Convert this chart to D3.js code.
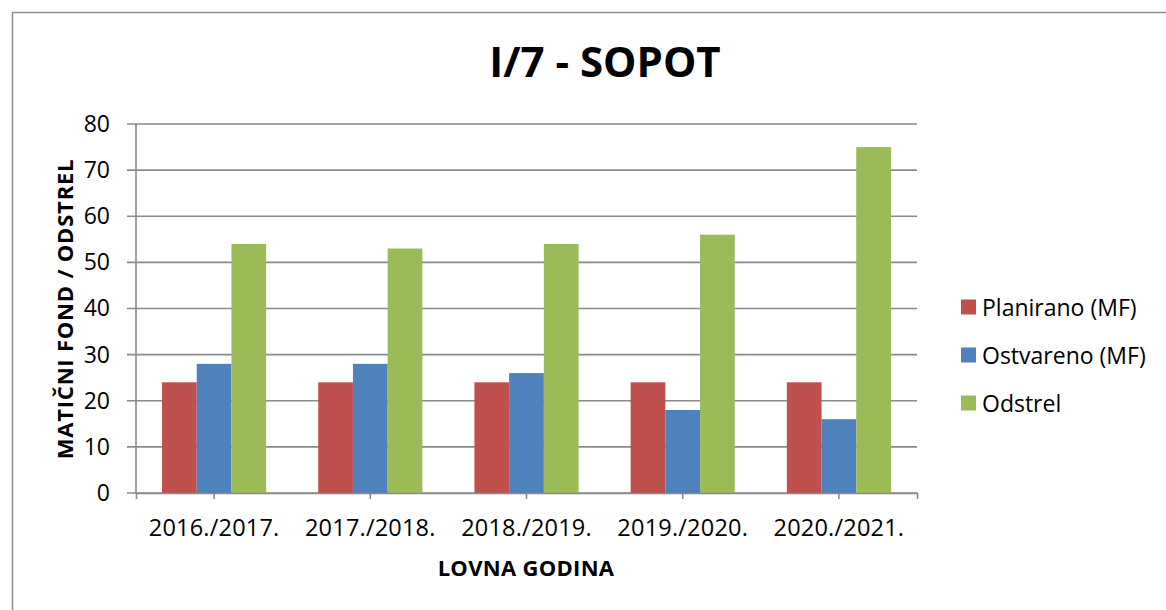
<!DOCTYPE html>
<html>
<head>
<meta charset="utf-8">
<script src="https://cdn.jsdelivr.net/npm/d3@7"></script>
<style>
  html, body { margin: 0; padding: 0; background: #fff; }
  svg { display: block; font-family: "Open Sans", sans-serif; }
</style>
</head>
<body>
<svg id="chart"></svg>
<script>
const seasons = ['2016./2017.', '2017./2018.', '2018./2019.', '2019./2020.', '2020./2021.'];
const seriesNames = ['Planirano (MF)', 'Ostvareno (MF)', 'Odstrel'];
const planirano = [24, 24, 24, 24, 24];
const ostvareno = [28, 28, 26, 18, 16];
const odstrel = [54, 53, 54, 56, 75];
const yTicks = [0, 10, 20, 30, 40, 50, 60, 70, 80];
const colors = ['#C0504D', '#4F81BD', '#9BBB59'];

function drawChart() {
  const width = 1166, height = 610;
  const svg = d3.select('#chart').attr('width', width).attr('height', height);
  svg.selectAll('*').remove();

  const left = 136, right = 917, top = 124, bottom = 493;
  const gridColor = '#8a8a8a';

  // outer frame
  svg.append('rect')
    .attr('x', 12.5).attr('y', 12.5)
    .attr('width', width).attr('height', height)
    .attr('fill', 'none')
    .attr('stroke', '#8c8c8c')
    .attr('stroke-width', 1.5);

  const x0 = d3.scaleBand().domain(seasons).range([left, right]).padding(0);
  const x1 = d3.scaleBand().domain(seriesNames).range([0, x0.bandwidth()])
    .paddingInner(0).paddingOuter(0.75);
  const y = d3.scaleLinear().domain([0, 80]).range([bottom, top]);

  // gridlines
  svg.append('g')
    .selectAll('line')
    .data(yTicks)
    .enter()
    .append('line')
    .attr('x1', left - 9)
    .attr('x2', right)
    .attr('y1', d => y(d))
    .attr('y2', d => y(d))
    .attr('stroke', gridColor)
    .attr('stroke-width', 1.6);

  // y tick labels
  const yAxis = svg.append('g')
    .attr('transform', `translate(${left},0)`)
    .call(d3.axisLeft(y).tickValues(yTicks).tickSize(0).tickPadding(26));
  yAxis.select('.domain').remove();
  yAxis.selectAll('text')
    .style('font-size', '23px')
    .style('font-family', '"Open Sans", sans-serif')
    .attr('fill', '#000');

  // bars
  const rows = seasons.map((s, i) => ({
    season: s,
    values: [planirano[i], ostvareno[i], odstrel[i]]
  }));

  const groups = svg.append('g')
    .selectAll('g')
    .data(rows)
    .enter()
    .append('g')
    .attr('transform', d => `translate(${x0(d.season)},0)`);

  groups.selectAll('rect')
    .data(d => d.values.map((v, k) => ({ key: seriesNames[k], value: v, k })))
    .enter()
    .append('rect')
    .attr('x', d => x1(d.key))
    .attr('y', d => y(d.value))
    .attr('width', x1.bandwidth())
    .attr('height', d => bottom - y(d.value))
    .attr('fill', d => colors[d.k]);

  // y axis line
  svg.append('line')
    .attr('x1', left).attr('x2', left)
    .attr('y1', top).attr('y2', bottom)
    .attr('stroke', gridColor)
    .attr('stroke-width', 1.6);

  // x axis
  const xAxis = svg.append('g')
    .attr('transform', `translate(0,${bottom})`)
    .call(d3.axisBottom(x0).tickSizeInner(6).tickSizeOuter(6).tickPadding(20));
  xAxis.select('.domain')
    .attr('stroke', gridColor)
    .attr('stroke-width', 1.6);
  xAxis.selectAll('.tick line')
    .attr('stroke', gridColor)
    .attr('stroke-width', 1.6);
  xAxis.selectAll('text')
    .style('font-size', '23.5px')
    .style('letter-spacing', '0.2px')
    .style('font-family', '"Open Sans", sans-serif')
    .attr('fill', '#000');

  // title
  svg.append('text')
    .attr('x', 605)
    .attr('y', 77)
    .attr('text-anchor', 'middle')
    .style('font-size', '42px')
    .style('font-weight', 'bold')
    .text('I/7 - SOPOT');

  // axis titles
  svg.append('text')
    .attr('x', 526)
    .attr('y', 576)
    .attr('text-anchor', 'middle')
    .style('font-size', '22px')
    .style('font-weight', 'bold')
    .style('letter-spacing', '0.3px')
    .text('LOVNA GODINA');

  svg.append('text')
    .attr('transform', 'translate(73,309) rotate(-90)')
    .attr('text-anchor', 'middle')
    .style('font-size', '22px')
    .style('font-weight', 'bold')
    .style('letter-spacing', '0.8px')
    .text('MATIČNI FOND / ODSTREL');

  // legend
  const legend = svg.append('g')
    .selectAll('g')
    .data(seriesNames)
    .enter()
    .append('g')
    .attr('transform', (d, i) => `translate(961,${307 + i * 48})`);

  legend.append('rect')
    .attr('x', 0).attr('y', -7.5)
    .attr('width', 15).attr('height', 15)
    .attr('fill', (d, i) => colors[i]);

  legend.append('text')
    .attr('x', 21)
    .attr('y', 8.5)
    .style('font-size', '23px')
    .text(d => d);
}

drawChart();
</script>
</body>
</html>
